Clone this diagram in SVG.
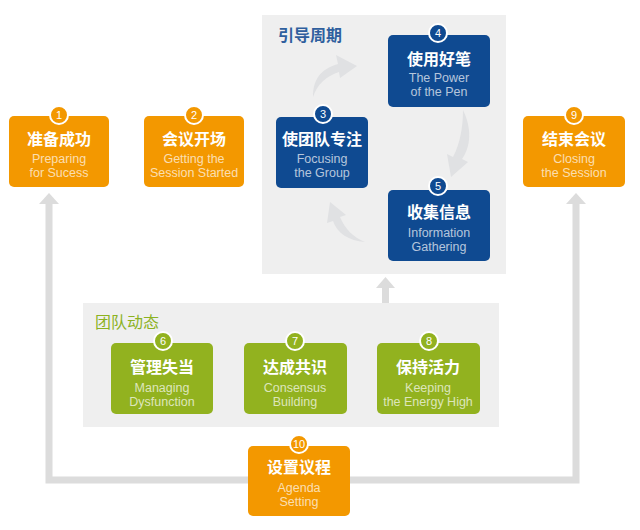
<svg xmlns="http://www.w3.org/2000/svg" width="640" height="530" viewBox="0 0 640 530">
<defs>
<style>
.panel{fill:#efefef}
.or{fill:#f39800}
.bl{fill:#0f4a91}
.gr{fill:#92b21f}
.zh{font-family:"Noto Sans CJK SC",sans-serif;font-weight:bold;font-size:16px;fill:#fff;text-anchor:middle}
.en{font-family:"Liberation Sans",Arial,sans-serif;font-size:12.5px;fill:#fff;fill-opacity:0.7;text-anchor:middle}
.num{font-family:"Liberation Sans",Arial,sans-serif;font-size:11px;fill:#fff;text-anchor:middle}
.badge{stroke:#fff;stroke-width:2}
.conn{fill:none;stroke:#dcdcdc;stroke-width:7}
.head{fill:#dcdcdc}
.curve{fill:#e0e1e3}
.title{font-family:"Noto Sans CJK SC",sans-serif;font-size:16px}
</style>
</defs>
<rect width="640" height="530" fill="#fff"/>

<g id="panel-cycle">
<rect class="panel" x="262" y="15" width="244" height="259"/>
<text class="title" x="278" y="41" fill="#2f5f9e" font-weight="bold">引导周期</text>
</g>
<g id="panel-dynamics">
<rect class="panel" x="83" y="303" width="416" height="124"/>
<text class="title" x="95" y="328" fill="#8cb21f">团队动态</text>
</g>

<g id="connectors">
<path class="conn" d="M49,203 V480 H576 V203"/>
<polygon class="head" points="49,193 59,204 39,204"/>
<polygon class="head" points="576,193 586,204 566,204"/>
<rect class="head" x="382" y="287" width="7" height="16"/>
<polygon class="head" points="385.5,277 395,288 376,288"/>
<path class="curve" d="M313,97 C313,80 320,69 338,64 L336,55 L357,66 L340,78 L339,72 C326,76 317,85 313,97 Z"/>
<path class="curve" d="M463,110 C472,128 471,147 462,159 L468,162 L451,177 L447,154 L453,157 C460,144 463,127 463,110 Z"/>
<path class="curve" d="M365,242 C349,241 337,233 333,221 L327,223 L330,202 L346,215 L340,217 C345,229 353,237 365,242 Z"/>
</g>

<g id="node1">
<rect class="or" x="9" y="116" width="100" height="71" rx="5"/>
<circle class="or badge" cx="59" cy="115" r="9"/>
<text class="num" x="59" y="119">1</text>
<text class="zh" x="59" y="145">准备成功</text>
<text class="en" x="59" y="163">Preparing</text>
<text class="en" x="59" y="177">for Sucess</text>
</g>
<g id="node2">
<rect class="or" x="144" y="116" width="100" height="71" rx="5"/>
<circle class="or badge" cx="194" cy="115" r="9"/>
<text class="num" x="194" y="119">2</text>
<text class="zh" x="194" y="145">会议开场</text>
<text class="en" x="194" y="163">Getting the</text>
<text class="en" x="194" y="177">Session Started</text>
</g>
<g id="node9">
<rect class="or" x="523" y="116" width="102" height="71" rx="5"/>
<circle class="or badge" cx="574" cy="115" r="9"/>
<text class="num" x="574" y="119">9</text>
<text class="zh" x="574" y="145">结束会议</text>
<text class="en" x="574" y="163">Closing</text>
<text class="en" x="574" y="177">the Session</text>
</g>

<g id="node3">
<rect class="bl" x="276" y="117" width="92" height="71" rx="5"/>
<circle class="bl badge" cx="323" cy="114" r="9"/>
<text class="num" x="323" y="118">3</text>
<text class="zh" x="322" y="145">使团队专注</text>
<text class="en" x="322" y="163">Focusing</text>
<text class="en" x="322" y="177">the Group</text>
</g>
<g id="node4">
<rect class="bl" x="388" y="35" width="102" height="72" rx="5"/>
<circle class="bl badge" cx="438" cy="33" r="9"/>
<text class="num" x="438" y="37">4</text>
<text class="zh" x="439" y="65">使用好笔</text>
<text class="en" x="439" y="82">The Power</text>
<text class="en" x="439" y="96">of the Pen</text>
</g>
<g id="node5">
<rect class="bl" x="388" y="190" width="102" height="71" rx="5"/>
<circle class="bl badge" cx="438" cy="186" r="9"/>
<text class="num" x="438" y="190">5</text>
<text class="zh" x="439" y="218">收集信息</text>
<text class="en" x="439" y="237">Information</text>
<text class="en" x="439" y="251">Gathering</text>
</g>

<g id="node6">
<rect class="gr" x="111" y="343" width="102" height="71" rx="5"/>
<circle class="gr badge" cx="163" cy="341" r="9"/>
<text class="num" x="163" y="345">6</text>
<text class="zh" x="162" y="373">管理失当</text>
<text class="en" x="162" y="392">Managing</text>
<text class="en" x="162" y="406">Dysfunction</text>
</g>
<g id="node7">
<rect class="gr" x="244" y="343" width="103" height="71" rx="5"/>
<circle class="gr badge" cx="295" cy="341" r="9"/>
<text class="num" x="295" y="345">7</text>
<text class="zh" x="295" y="373">达成共识</text>
<text class="en" x="295" y="392">Consensus</text>
<text class="en" x="295" y="406">Building</text>
</g>
<g id="node8">
<rect class="gr" x="377" y="343" width="103" height="71" rx="5"/>
<circle class="gr badge" cx="429" cy="341" r="9"/>
<text class="num" x="429" y="345">8</text>
<text class="zh" x="428" y="373">保持活力</text>
<text class="en" x="428" y="392">Keeping</text>
<text class="en" x="428" y="406">the Energy High</text>
</g>

<g id="node10">
<rect class="or" x="248" y="446" width="102" height="70" rx="5"/>
<circle class="or badge" cx="299" cy="444" r="9"/>
<text class="num" x="299" y="448">10</text>
<text class="zh" x="299" y="473">设置议程</text>
<text class="en" x="299" y="492">Agenda</text>
<text class="en" x="299" y="506">Setting</text>
</g>
</svg>
